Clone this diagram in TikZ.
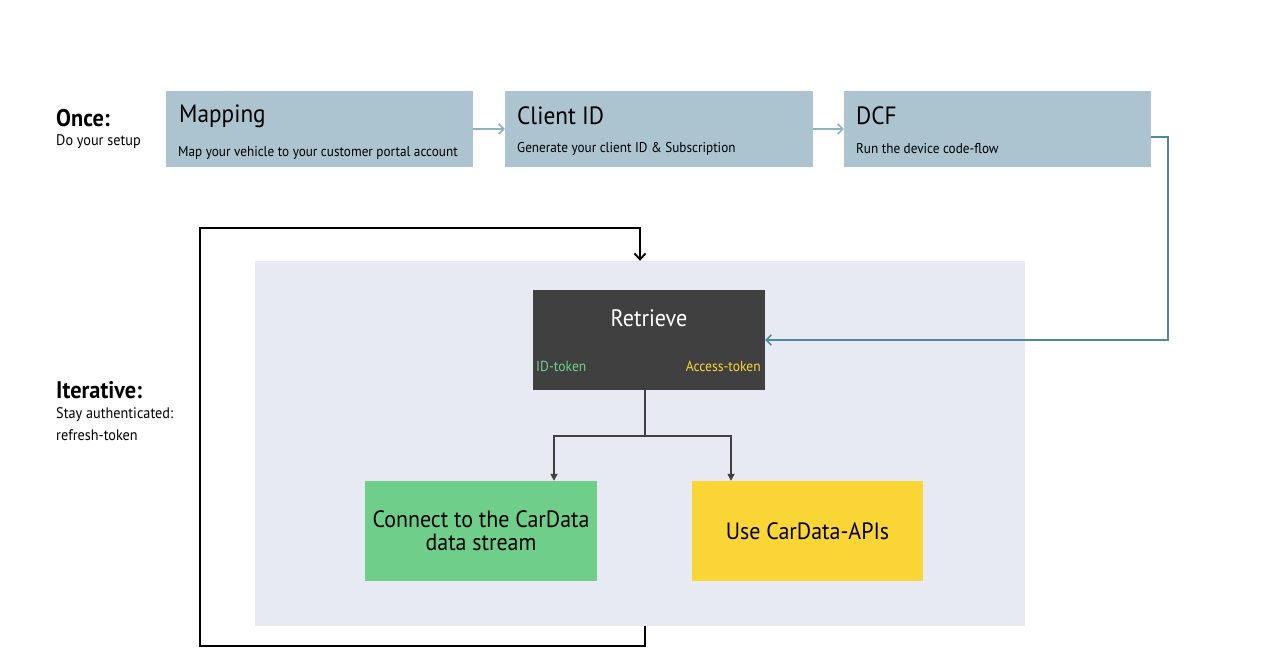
\documentclass[tikz,border=0pt]{standalone}
\usepackage{fontspec}
\setmainfont[FakeStretch=0.93]{PT Sans}
\usetikzlibrary{arrows.meta}
\definecolor{boxblue}{HTML}{ABC4D0}
\definecolor{arrblue}{HTML}{8FB2C2}
\definecolor{teal}{HTML}{4D8B9B}
\definecolor{panel}{HTML}{E7EAF2}
\definecolor{dark}{HTML}{404040}
\definecolor{tokgreen}{HTML}{6FCF8A}
\definecolor{tokyellow}{HTML}{F9D535}
\tikzset{
  stepbox/.style={fill=boxblue, draw=none, minimum width=307pt, minimum height=76pt, inner sep=0pt},
  bigtitle/.style={font=\fontsize{25}{28}\selectfont, inner sep=0pt, anchor=west},
  subtitle/.style={font=\fontsize{14.2}{17}\selectfont, inner sep=0pt, anchor=west},
  side/.style={font=\fontsize{15.3}{18}\selectfont, inner sep=0pt, anchor=west},
  sidehead/.style={font=\bfseries\fontsize{24}{27}\selectfont, inner sep=0pt, anchor=west},
  outbox/.style={draw=none, minimum width=232pt, minimum height=100pt, inner sep=0pt, align=center, font=\fontsize{23.6}{23}\selectfont},
  tokenlbl/.style={font=\fontsize{14.6}{17}\selectfont, inner sep=0pt},
  setuparrow/.style={draw=arrblue, line width=1.6pt, -{Straight Barb[length=5pt,width=10pt]}},
  feedarrow/.style={draw=teal, line width=1.6pt, -{Straight Barb[length=5pt,width=10pt]}},
  looparrow/.style={draw=black, line width=1.8pt, -{Straight Barb[length=6pt,width=11pt]}},
  splitarrow/.style={draw=dark, line width=1.6pt, -{Triangle[length=7pt,width=7pt]}},
}
\begin{document}
\begin{tikzpicture}[x=1pt,y=-1pt]
\useasboundingbox (0,0) rectangle (1280,666);
\fill[white] (0,0) rectangle (1280,666);

% setup boxes
\node[stepbox] (map) at (319.5,129) {};
\node[stepbox, minimum width=308pt] (cid) at (659,129) {};
\node[stepbox] (dcf) at (997.5,129) {};
\node[bigtitle] (maptitle) at (179,116) {Mapping};
\node[subtitle] (mapsub) at (178,153) {Map your vehicle to your customer portal account};
\node[bigtitle] (cidtitle) at (517,116) {Client ID};
\node[subtitle] (cidsub) at (517,149) {Generate your client ID \& Subscription};
\node[bigtitle] (dcftitle) at (856,116) {DCF};
\node[subtitle] (dcfsub) at (856,149) {Run the device code-flow};

% side labels
\node[sidehead] (once) at (56,118) {Once:};
\node[side] (oncesub) at (56,142) {Do your setup};
\node[sidehead] (iter) at (56,390) {Iterative:};
\node[side] (itersub1) at (56,415) {Stay authenticated:};
\node[side] (itersub2) at (56,435) {refresh-token};

% panel
\node[fill=panel, minimum width=770pt, minimum height=365pt, inner sep=0pt] (pnl) at (640,443.5) {};

% retrieve
\node[fill=dark, minimum width=232pt, minimum height=100pt, inner sep=0pt] (ret) at (649,340) {};
\node[font=\fontsize{23.8}{26}\selectfont, text=white, inner sep=0pt] (rettitle) at (649,318) {Retrieve};
\node[tokenlbl, text=tokgreen, anchor=west] (idtok) at (536,366) {ID-token};
\node[tokenlbl, text=tokyellow, anchor=east] (acctok) at (761,366) {Access-token};

% outputs
\node[outbox, fill=tokgreen] (stream) at (481,531) {Connect to the CarData\\data stream};
\node[outbox, fill=tokyellow, minimum width=231pt] (api) at (807.5,531) {Use CarData-APIs};

% connectors
\draw[setuparrow] (map.east) -- (cid.west);
\draw[setuparrow] (cid.east) -- (dcf.west);
\draw[feedarrow] ([yshift=-8pt]dcf.east) -- ++(17,0) |- (ret.east);
\coordinate (split) at ([xshift=-4pt,yshift=-46pt]ret.south);
\draw[draw=dark, line width=1.6pt] ([xshift=-4pt]ret.south) -- (split);
\draw[splitarrow] (split) -| ([xshift=73pt]stream.north);
\draw[splitarrow] (split) -| ([xshift=-76.5pt]api.north);
\coordinate (loopbl) at (200,646);
\coordinate (looptl) at (200,228);
\draw[looparrow] ([xshift=5pt]pnl.south) |- (loopbl) -- (looptl) -| (pnl.north);
\end{tikzpicture}
\end{document}
